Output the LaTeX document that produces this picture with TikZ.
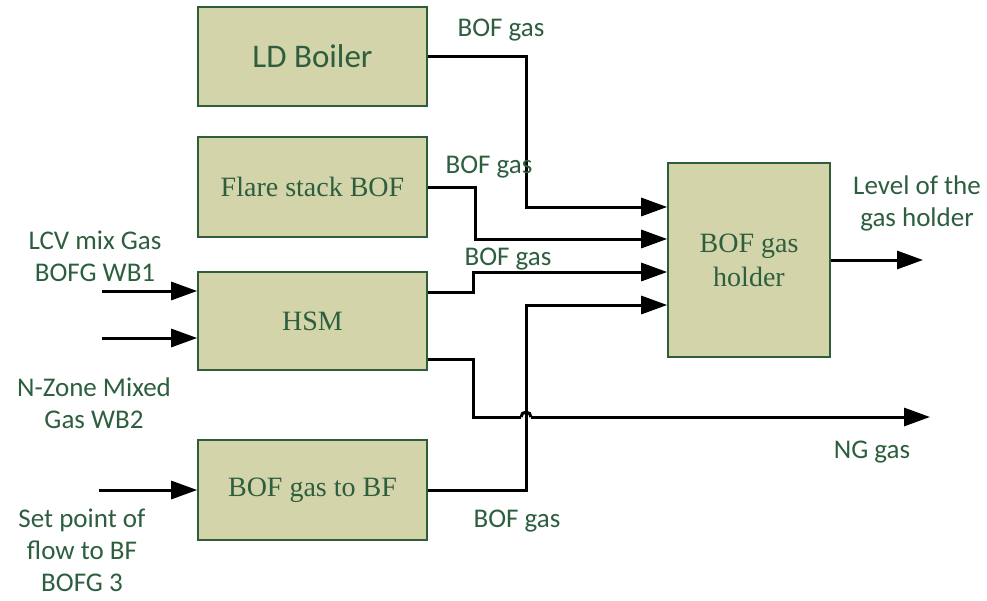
\documentclass[tikz,border=0pt]{standalone}
\usepackage{fontspec}
\setmainfont{Liberation Serif}
\newfontfamily\lblfont{Carlito}
\usetikzlibrary{arrows.meta}
\definecolor{boxfill}{HTML}{D4D4AB}
\definecolor{boxline}{HTML}{2F5C39}
\definecolor{txtgreen}{HTML}{2D5E3E}
\tikzset{
  blk/.style={draw=boxline, fill=boxfill, line width=1.6pt, inner sep=0pt,
    text=txtgreen, align=center, font=\fontsize{28}{34}\selectfont},
  lbl/.style={inner sep=0pt, text=txtgreen, align=center, anchor=base,
    font=\lblfont\fontsize{27}{32}\selectfont},
  wire/.style={line width=3pt, draw=black, line join=miter},
  arr/.style={wire, -{Triangle[length=26pt,width=18pt]}}
}
\begin{document}
\begin{tikzpicture}[x=1pt,y=-1pt]
\useasboundingbox (0,0) rectangle (987,600);
% boxes
\node[blk, minimum width=229pt, minimum height=99pt, font=\lblfont\fontsize{33}{38}\selectfont] (ld) at (312.5,56.5) {LD Boiler};
\node[blk, minimum width=229pt, minimum height=100pt] (fl) at (312.5,187) {Flare stack BOF};
\node[blk, minimum width=229pt, minimum height=98pt] (hsm) at (312.5,321) {HSM};
\node[blk, minimum width=229pt, minimum height=100pt] (bf) at (312.5,490) {BOF gas to BF};
\node[blk, minimum width=162pt, minimum height=194pt] (gh) at (749,260) {BOF gas\\holder};
% entry points on holder
\coordinate (h1) at ([yshift=53pt]gh.west);
\coordinate (h2) at ([yshift=21pt]gh.west);
\coordinate (h3) at ([yshift=-12pt]gh.west);
\coordinate (h4) at ([yshift=-45pt]gh.west);
\coordinate (hsmA) at ([yshift=29pt]hsm.east);
\coordinate (hsmB) at ([yshift=-38pt]hsm.east);
% free ends
\coordinate (in1) at (102,291);
\coordinate (in2) at (102,338);
\coordinate (in3) at (99,490);
\coordinate (outL) at (923,260);
\coordinate (outNG) at (930,417);
\coordinate (hopL) at (521,417);
\coordinate (hopR) at (531,417);
% connectors
\draw[arr] (ld.east) -| (526,207) -- (h1);
\draw[arr] (fl.east) -| (475,239) -- (h2);
\draw[arr] (hsmA) -| (473,272) -- (h3);
\draw[arr] (bf.east) -| (526,305) -- (h4);
\draw[wire] (hsmB) -| (473,417) -- (hopL);
\draw[wire] (hopL) arc[start angle=180, end angle=0, radius=5pt];
\draw[arr] (hopR) -- (outNG);
\draw[arr] (gh.east) -- (outL);
\draw[arr] (in1) -- (in1 -| hsm.west);
\draw[arr] (in2) -- (in2 -| hsm.west);
\draw[arr] (in3) -- (bf.west);
% labels (base = baseline of last line)
\node[lbl] (g1) at (501,36) {BOF gas};
\node[lbl] (g2) at (489,173) {BOF gas};
\node[lbl] (g3) at (508,265) {BOF gas};
\node[lbl] (g4) at (517,527) {BOF gas};
\node[lbl] (l1) at (95,281) {LCV mix Gas\\BOFG WB1};
\node[lbl] (l2) at (94,428) {N-Zone Mixed\\Gas WB2};
\node[lbl] (l3) at (82,591) {Set point of\\flow to BF\\BOFG 3};
\node[lbl] (l4) at (917,226) {Level of the\\gas holder};
\node[lbl] (l5) at (872,458) {NG gas};
\end{tikzpicture}
\end{document}
